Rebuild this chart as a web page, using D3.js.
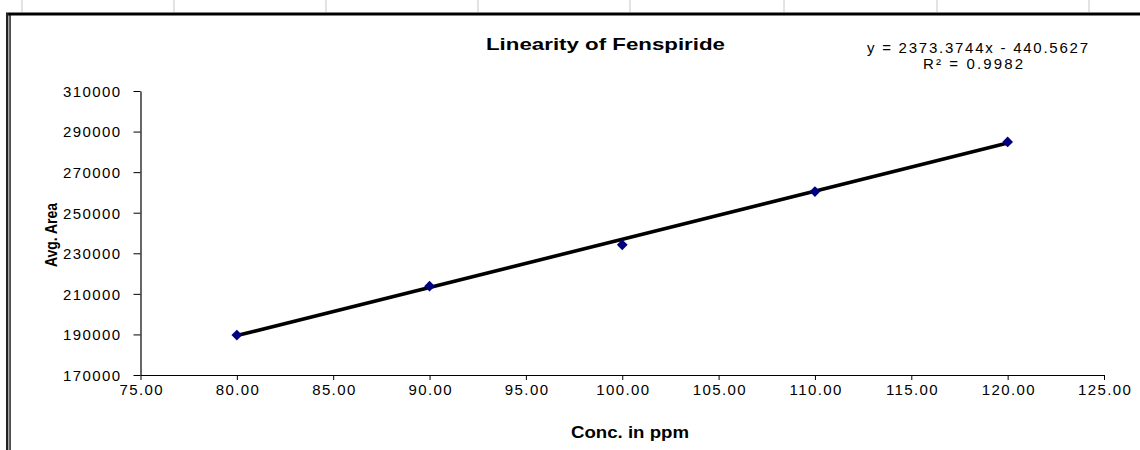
<!DOCTYPE html>
<html>
<head>
<meta charset="utf-8">
<script src="https://cdn.jsdelivr.net/npm/d3@7"></script>
<style>
  html, body { margin: 0; padding: 0; background: #fff; }
  svg { display: block; }
  text { font-family: Arial, "Liberation Sans", sans-serif; fill: #000; }
</style>
</head>
<body>
<svg id="chart" width="1140" height="450"></svg>
<script>
// ---- data ----
const concentrations = [80, 90, 100, 110, 120];
const avgAreas = [189700, 213800, 234200, 260400, 284900];
const xTicks = [75, 80, 85, 90, 95, 100, 105, 110, 115, 120, 125];
const yTicks = [170000, 190000, 210000, 230000, 250000, 270000, 290000, 310000];
const fitSlope = [2373.3744];
const fitIntercept = [-440.5627];
const titleText = ["Linearity of Fenspiride"];
const equationLines = ["y = 2373.3744x  - 440.5627", "R\u00B2 = 0.9982"];
const xTitle = ["Conc. in ppm"];
const yTitle = ["Avg. Area"];
const sheetColumns = [22, 174, 326, 478, 630, 784, 937, 1089];

const svg = d3.select("#chart");

// spreadsheet frame
svg.selectAll("line.col").data(sheetColumns).join("line")
  .attr("x1", d => d).attr("x2", d => d).attr("y1", 0).attr("y2", 12)
  .attr("stroke", "#c8c8c8").attr("stroke-width", 1);
svg.append("line").attr("x1", 6).attr("x2", 1140).attr("y1", 12.5).attr("y2", 12.5)
  .attr("stroke", "#808080").attr("stroke-width", 1);
svg.append("rect").attr("x", 6).attr("y", 13).attr("width", 1134).attr("height", 2.5).attr("fill", "#000");
svg.append("rect").attr("x", 6).attr("y", 13).attr("width", 2.4).attr("height", 437).attr("fill", "#222");
svg.append("rect").attr("x", 9.4).attr("y", 15).attr("width", 1.3).attr("height", 435).attr("fill", "#000");

// scales
const x = d3.scaleLinear().domain([75, 125]).range([140.5, 1104]);
const y = d3.scaleLinear().domain([170000, 310000]).range([375, 91]);

// axes
const xAxis = svg.append("g").attr("transform", "translate(0,375)")
  .call(d3.axisBottom(x).tickValues(xTicks).tickFormat(d3.format(".2f")).tickSize(5).tickSizeOuter(0));
const yAxis = svg.append("g").attr("transform", "translate(140.5,0)")
  .call(d3.axisLeft(y).tickValues(yTicks).tickFormat(d3.format("d")).tickSize(7).tickSizeOuter(0));
[xAxis, yAxis].forEach(g => {
  g.select(".domain").attr("stroke", "#000").attr("stroke-width", 1.2);
  g.selectAll(".tick line").attr("stroke", "#000").attr("stroke-width", 1);
  g.selectAll(".tick text").attr("font-size", 15).attr("font-family", "Arial, 'Liberation Sans', sans-serif")
    .style("letter-spacing", "1.4px").attr("fill", "#000");
});
xAxis.selectAll(".tick text").attr("y", 9).attr("dy", "0.71em").attr("dx", 0.7);
yAxis.selectAll(".tick text").attr("x", -19).attr("dy", "0.36em");

// trendline
const fitX = [d3.min(concentrations), d3.max(concentrations)];
svg.append("path")
  .datum(fitX)
  .attr("d", d3.line().x(d => x(d)).y(d => y(fitSlope[0] * d + fitIntercept[0])))
  .attr("stroke", "#000").attr("stroke-width", 3.6).attr("fill", "none");

// markers (square rotated 45deg)
const pts = concentrations.map((c, i) => ({c, a: avgAreas[i]}));
svg.selectAll("path.pt").data(pts).join("path")
  .attr("class", "pt")
  .attr("transform", d => `translate(${x(d.c)},${y(d.a)}) rotate(45)`)
  .attr("d", d3.symbol().type(d3.symbolSquare).size(58))
  .attr("fill", "#000080");

// titles
svg.append("text").attr("x", 605.5).attr("y", 50).attr("text-anchor", "middle")
  .attr("font-size", 17).attr("font-weight", "bold")
  .attr("textLength", 239).attr("lengthAdjust", "spacingAndGlyphs")
  .text(titleText[0]);
svg.selectAll("text.eq").data(equationLines).join("text")
  .attr("class", "eq")
  .attr("x", (d, i) => i === 0 ? 977.5 : 973)
  .attr("y", (d, i) => i === 0 ? 53 : 68.5)
  .attr("text-anchor", "middle").attr("font-size", 15)
  .attr("textLength", (d, i) => i === 0 ? 221 : 100).attr("lengthAdjust", "spacing")
  .text(d => d);
svg.append("text").attr("x", 630).attr("y", 438).attr("text-anchor", "middle")
  .attr("font-size", 16).attr("font-weight", "bold")
  .attr("textLength", 118).attr("lengthAdjust", "spacingAndGlyphs")
  .text(xTitle[0]);
svg.append("text").attr("transform", "translate(56.5,235) rotate(-90)")
  .attr("text-anchor", "middle").attr("font-size", 16).attr("font-weight", "bold")
  .attr("textLength", 64).attr("lengthAdjust", "spacingAndGlyphs")
  .text(yTitle[0]);
</script>
</body>
</html>
